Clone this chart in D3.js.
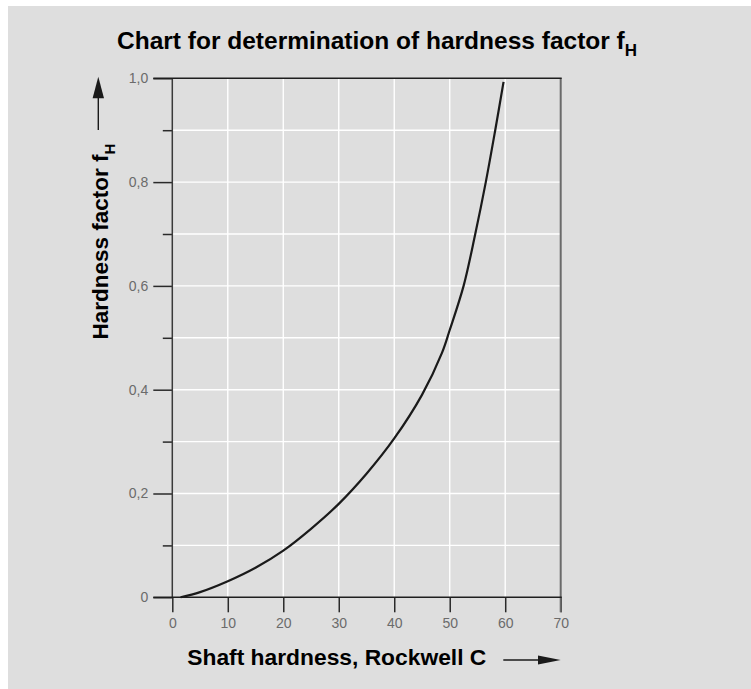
<!DOCTYPE html>
<html>
<head>
<meta charset="utf-8">
<script src="https://cdn.jsdelivr.net/npm/d3@7"></script>
<style>
  html, body { margin: 0; padding: 0; background: #ffffff; }
  svg { display: block; }
  text { font-family: "Liberation Sans", Arial, Helvetica, sans-serif; }
</style>
</head>
<body>
<svg id="chart" width="751" height="689"></svg>
<script>
// ---- data ----
const hardness = [1.5, 5, 10, 15, 20, 25, 30, 35, 40, 45, 48.6, 50, 52.5, 54.6, 56.5, 58.2, 59.7];
const factor   = [0, 0.01, 0.031, 0.057, 0.09, 0.132, 0.18, 0.238, 0.306, 0.39, 0.471, 0.515, 0.6, 0.7, 0.8, 0.9, 0.993];

const xTicks = [0, 10, 20, 30, 40, 50, 60, 70];
const yMajorTicks = [0, 0.2, 0.4, 0.6, 0.8, 1.0];
const yMajorLabels = ["0", "0,2", "0,4", "0,6", "0,8", "1,0"];
const yMinorTicks = [0.1, 0.3, 0.5, 0.7, 0.9];
const yGridTicks = [0.1, 0.2, 0.3, 0.4, 0.5, 0.6, 0.7, 0.8, 0.9];
const xGridTicks = [10, 20, 30, 40, 50, 60];

const titleMain = "Chart for determination of hardness factor f";
const titleSub = "H";
const yLabelMain = "Hardness factor f";
const yLabelSub = "H";
const xLabel = "Shaft hardness, Rockwell C";

// ---- layout ----
const svg = d3.select("#chart");
const W = 751, H = 689;

svg.append("rect").attr("x", 8).attr("y", 6).attr("width", W - 8).attr("height", H - 6)
  .attr("fill", "#dedede");

const x = d3.scaleLinear().domain([0, 70]).range([172.3, 560.7]);
const y = d3.scaleLinear().domain([0, 1]).range([597.3, 78.3]);

// grid
const grid = svg.append("g");
grid.selectAll("line.vg").data(xGridTicks).join("line")
  .attr("x1", d => x(d)).attr("x2", d => x(d))
  .attr("y1", y(0)).attr("y2", y(1))
  .attr("stroke", "#ffffff").attr("stroke-width", 1.4);
grid.selectAll("line.hg").data(yGridTicks).join("line")
  .attr("x1", x(0)).attr("x2", x(70))
  .attr("y1", d => y(d)).attr("y2", d => y(d))
  .attr("stroke", "#ffffff").attr("stroke-width", 1.4);

// axes (ticks + labels)
const tickColor = "#2a2a2a";
const labelColor = "#6b6b6b";

const xAxis = svg.append("g").attr("transform", `translate(0,${y(0)})`)
  .call(d3.axisBottom(x).tickValues(xTicks).tickSize(15).tickPadding(5.5).tickFormat(d3.format("d")));
xAxis.attr("font-size", 14).attr("font-family", "'Liberation Sans', Arial, sans-serif");
xAxis.select(".domain").remove();
xAxis.selectAll(".tick line").attr("stroke", tickColor).attr("stroke-width", 1.5);
xAxis.selectAll(".tick text").attr("fill", labelColor);

const yAxis = svg.append("g").attr("transform", `translate(${x(0)},0)`)
  .call(d3.axisLeft(y).tickValues(yMajorTicks).tickSize(19).tickPadding(5)
    .tickFormat((d, i) => yMajorLabels[i]));
yAxis.attr("font-size", 14).attr("font-family", "'Liberation Sans', Arial, sans-serif");
yAxis.select(".domain").remove();
yAxis.selectAll(".tick line").attr("stroke", tickColor).attr("stroke-width", 1.5);
yAxis.selectAll(".tick text").attr("fill", labelColor);

const yMinor = svg.append("g").attr("transform", `translate(${x(0)},0)`)
  .call(d3.axisLeft(y).tickValues(yMinorTicks).tickSize(9.5).tickFormat(""));
yMinor.select(".domain").remove();
yMinor.selectAll(".tick line").attr("stroke", tickColor).attr("stroke-width", 1.5);

// frame lines
svg.append("line").attr("x1", x(0)).attr("x2", x(0)).attr("y1", y(1)).attr("y2", y(0))
  .attr("stroke", "#3a3a3a").attr("stroke-width", 1.5);
svg.append("line").attr("x1", x(70)).attr("x2", x(70)).attr("y1", y(1)).attr("y2", y(0) + 15)
  .attr("stroke", "#6a6a6a").attr("stroke-width", 2);
svg.append("line").attr("x1", x(0) - 19).attr("x2", x(70) + 1).attr("y1", y(0)).attr("y2", y(0))
  .attr("stroke", "#1e1e1e").attr("stroke-width", 1.5);
svg.append("line").attr("x1", x(0) - 19).attr("x2", x(70) + 1).attr("y1", y(1)).attr("y2", y(1))
  .attr("stroke", "#1e1e1e").attr("stroke-width", 1.5);

// curve
const pts = hardness.map((h, i) => [h, factor[i]]);
svg.append("path").datum(pts)
  .attr("d", d3.line().x(d => x(d[0])).y(d => y(d[1])).curve(d3.curveCatmullRom.alpha(0.5)))
  .attr("fill", "none").attr("stroke", "#1a1a1a").attr("stroke-width", 2.2)
  .attr("stroke-linecap", "butt");

// title
const title = svg.append("text").attr("x", 117).attr("y", 49)
  .attr("font-size", 24.5).attr("font-weight", "bold").attr("fill", "#000");
title.append("tspan").text(titleMain);
title.append("tspan").text(titleSub).attr("font-size", 17).attr("dy", 7);

// y label
const yl = svg.append("text").attr("transform", `translate(108.3,339.5) rotate(-90)`)
  .attr("font-size", 22.5).attr("font-weight", "bold").attr("fill", "#000");
yl.append("tspan").text(yLabelMain);
yl.append("tspan").text(yLabelSub).attr("font-size", 15).attr("dy", 7);

// y arrow
svg.append("line").attr("x1", 98.3).attr("x2", 98.3).attr("y1", 130).attr("y2", 97)
  .attr("stroke", "#1a1a1a").attr("stroke-width", 1.4);
svg.append("path").attr("d", `M98.3,76.7 L104,98.3 L92.6,98.3 Z`).attr("fill", "#1a1a1a");

// x label
svg.append("text").attr("x", 187.3).attr("y", 665)
  .attr("font-size", 22.8).attr("font-weight", "bold").attr("fill", "#000").text(xLabel);

// x arrow
svg.append("line").attr("x1", 503.3).attr("x2", 540).attr("y1", 660).attr("y2", 660)
  .attr("stroke", "#1a1a1a").attr("stroke-width", 1.4);
svg.append("path").attr("d", `M560.7,660 L538,655.5 L538,664.5 Z`).attr("fill", "#1a1a1a");
</script>
</body>
</html>
